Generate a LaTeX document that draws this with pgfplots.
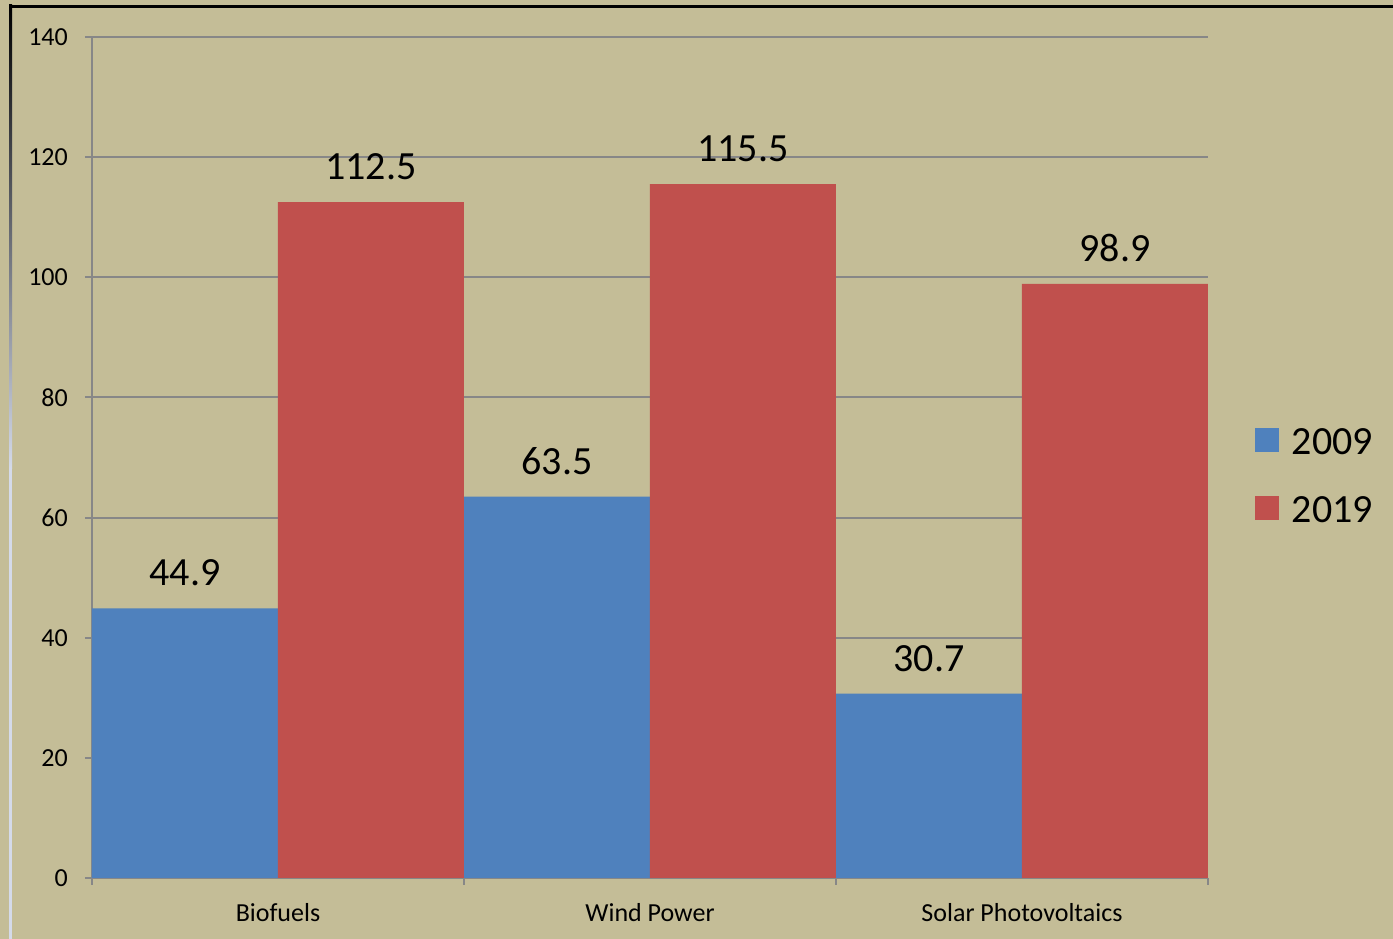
\documentclass[border=0pt]{standalone}
\usepackage{pgfplots}
\pgfplotsset{compat=1.18}
\usepackage{fontspec}
\setmainfont{Carlito}

\definecolor{bgtan}{HTML}{C4BD97}
\definecolor{bar09}{HTML}{4F81BD}
\definecolor{bar19}{HTML}{C0504D}
\definecolor{gridc}{HTML}{878787}
\definecolor{edgelight}{HTML}{D4DAEA}

\begin{document}
\begin{tikzpicture}
% page background and frame
\fill[bgtan] (0pt,0pt) rectangle (1393pt,939pt);
\useasboundingbox (0pt,0pt) rectangle (1393pt,939pt);
\fill[edgelight] (9pt,0pt) rectangle (12pt,470pt);
\shade[top color=black, bottom color=edgelight] (9pt,470pt) rectangle (12pt,934pt);
\fill[black] (9pt,931pt) rectangle (1393pt,934pt);

\begin{axis}[
    at={(92pt,61pt)}, anchor=south west,
    scale only axis,
    width=1116pt, height=841pt,
    xmin=-0.5, xmax=2.5,
    ymin=0, ymax=140,
    ytick={0,20,...,140},
    axis x line*=bottom, axis y line*=left,
    axis line style={gridc, line width=2pt},
    ymajorgrids,
    grid style={gridc, line width=2pt},
    tick align=outside,
    major tick length=7pt,
    tick style={gridc, line width=2pt},
    xtick={-0.5,0.5,1.5,2.5},
    xticklabels={},
    extra x ticks={0,1,2},
    extra x tick labels={Biofuels,Wind Power,Solar Photovoltaics},
    extra x tick style={tick style={draw=none}},
    xticklabel style={anchor=base, inner sep=0pt, yshift=-37pt},
    yticklabel style={anchor=east, inner sep=0pt, xshift=-17pt},
    tick label style={font=\fontsize{26}{30}\selectfont},
    /pgf/number format/assume math mode=true,
    ybar, bar width=0.5, bar shift=0pt,
    nodes near coords,
    nodes near coords style={font=\fontsize{40}{46}\selectfont, anchor=south, inner sep=0pt, yshift=22pt,
        /pgf/number format/fixed, /pgf/number format/precision=1},
    legend style={at={(axis description cs:1.0421,0.535)}, anchor=north west,
        draw=none, fill=none, inner sep=0pt, outer sep=0pt,
        font=\fontsize{40}{46}\selectfont,
        nodes={inner sep=0pt}, column sep=13pt, row sep=40pt},
    legend cell align=left,
    legend image code/.code={\fill[#1] (0pt,-10pt) rectangle (24pt,14pt);},
]
\addplot[fill=bar09, draw=none] coordinates {(-0.25,44.9) (0.75,63.5) (1.75,30.7)};
\addplot[fill=bar19, draw=none] coordinates {(0.25,112.5) (1.25,115.5) (2.25,98.9)};
\legend{2009,2019}
\end{axis}
\end{tikzpicture}
\end{document}
